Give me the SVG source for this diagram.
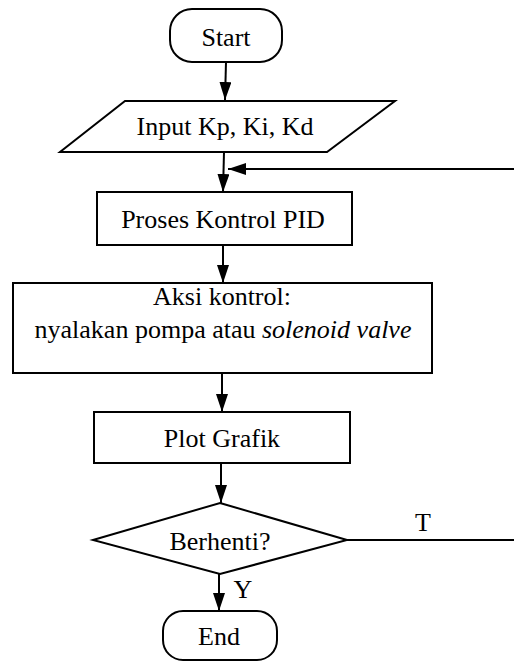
<svg xmlns="http://www.w3.org/2000/svg" width="514" height="664" viewBox="0 0 514 664">
<style>
.s{fill:#fff;stroke:#000;stroke-width:2}
.t{font-family:"Liberation Serif","Times New Roman",serif;font-size:26px;fill:#000;text-anchor:middle}
.c{fill:none;stroke:#000;stroke-width:2}
</style>
<defs>
<marker id="a" viewBox="0 0 18 12" refX="18" refY="6" markerWidth="18" markerHeight="12" markerUnits="userSpaceOnUse" orient="auto">
<path d="M0,0 L18,6 L0,12 Z" fill="#000"/>
</marker>
</defs>
<rect width="514" height="664" fill="#fff"/>
<g id="connectors">
<line class="c" x1="226" y1="62" x2="225" y2="100" marker-end="url(#a)"/>
<line class="c" x1="224" y1="152" x2="223" y2="192" marker-end="url(#a)"/>
<line class="c" x1="514" y1="169" x2="228" y2="169" marker-end="url(#a)"/>
<line class="c" x1="223" y1="245" x2="223" y2="283" marker-end="url(#a)"/>
<line class="c" x1="222" y1="373" x2="222" y2="412" marker-end="url(#a)"/>
<line class="c" x1="221" y1="463" x2="221" y2="503" marker-end="url(#a)"/>
<line class="c" x1="347" y1="540" x2="514" y2="540"/>
<line class="c" x1="219" y1="574" x2="219" y2="611" marker-end="url(#a)"/>
<text class="t" x="423" y="531">T</text>
<text class="t" x="243" y="598">Y</text>
</g>
<g id="start">
<rect class="s" x="170" y="9" width="112" height="53" rx="22"/>
<text class="t" x="226" y="46">Start</text>
</g>
<g id="input">
<polygon class="s" points="125,101 395,101 327,152 60,152"/>
<text class="t" x="225" y="135">Input Kp, Ki, Kd</text>
</g>
<g id="pid">
<rect class="s" x="97" y="192" width="255" height="53"/>
<text class="t" x="223" y="228">Proses Kontrol PID</text>
</g>
<g id="aksi">
<rect class="s" x="13" y="283" width="419" height="90"/>
<text class="t" x="222" y="305">Aksi kontrol:</text>
<text class="t" x="223" y="338">nyalakan pompa atau <tspan font-style="italic">solenoid valve</tspan></text>
</g>
<g id="plot">
<rect class="s" x="94" y="412" width="256" height="51"/>
<text class="t" x="222" y="447">Plot Grafik</text>
</g>
<g id="berhenti">
<polygon class="s" points="220,503 347,540 220,574 93,540"/>
<text class="t" x="220" y="550">Berhenti?</text>
</g>
<g id="end">
<rect class="s" x="163" y="611" width="114" height="49" rx="20"/>
<text class="t" x="219" y="645">End</text>
</g>
</svg>
